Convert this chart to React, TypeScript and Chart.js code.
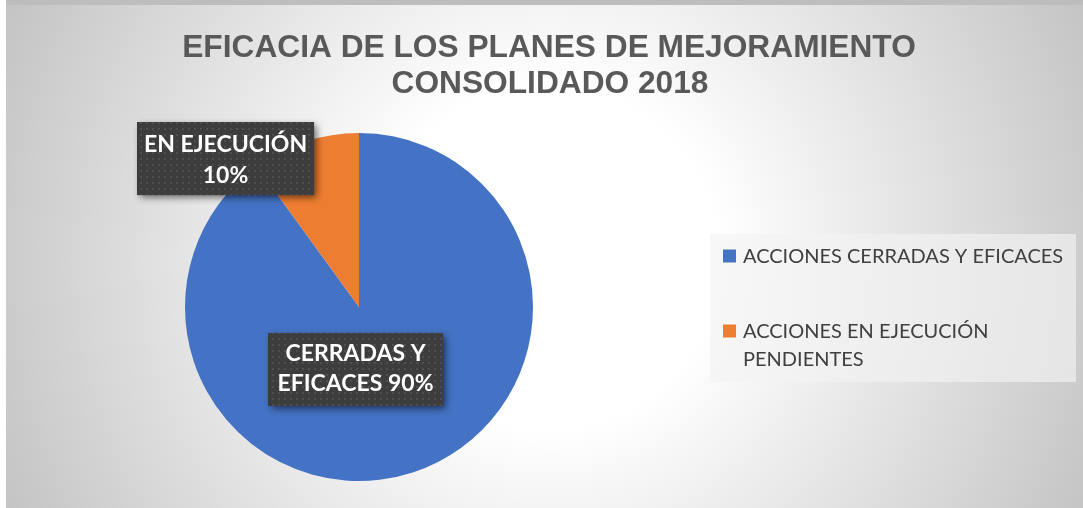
import React, { useEffect, useRef } from "react";
import { Chart, registerables } from "chart.js";

Chart.register(...registerables);

// ---------- data ----------
const titleLines = ["EFICACIA DE LOS PLANES DE MEJORAMIENTO", "CONSOLIDADO 2018"];
const categories = ["ACCIONES CERRADAS Y EFICACES", "ACCIONES EN EJECUCIÓN PENDIENTES"];
const values = [90, 10];
const sliceLabels = [
  ["CERRADAS Y", "EFICACES 90%"],
  ["EN EJECUCIÓN", "10%"],
];
const sliceColors = ["#4472C4", "#ED7D31"];

// ---------- layout (styles / positions) ----------
const W = 1083;
const H = 508;
const LABEL_LAYOUT = [
  { dx: -0.02, dy: 0.359, w: 175, h: 73, b1: -8, b2: 22 },
  { dx: -0.767, dy: -0.853, w: 177, h: 73, b1: -6.5, b2: 24.5 },
];
const LEGEND_BOX = { x: 710, y: 234, w: 366, h: 148 };

function makePattern(ctx: CanvasRenderingContext2D) {
  const c = document.createElement("canvas");
  c.width = 6;
  c.height = 6;
  const p = c.getContext("2d")!;
  p.fillStyle = "#3d3d3d";
  p.fillRect(0, 0, 6, 6);
  p.fillStyle = "#4f4f4f";
  p.fillRect(2, 2, 2, 2);
  return ctx.createPattern(c, "repeat");
}

function wrapText(ctx: CanvasRenderingContext2D, text: string, maxW: number) {
  const words = text.split(" ");
  const lines: string[] = [];
  let cur = "";
  for (const w of words) {
    const test = cur ? cur + " " + w : w;
    if (ctx.measureText(test).width > maxW && cur) {
      lines.push(cur);
      cur = w;
    } else cur = test;
  }
  if (cur) lines.push(cur);
  return lines;
}

const decorPlugin = {
  id: "decor",
  beforeDraw(chart: any) {
    const ctx: CanvasRenderingContext2D = chart.ctx;
    ctx.save();
    ctx.fillStyle = "#ffffff";
    ctx.fillRect(0, 0, W, H);
    const g = ctx.createRadialGradient(548, 258, 0, 548, 258, 610);
    g.addColorStop(0, "#ffffff");
    g.addColorStop(0.28, "#ffffff");
    g.addColorStop(1, "#c2c2c2");
    ctx.fillStyle = g;
    ctx.fillRect(6, 0, W - 6, H);
    ctx.fillStyle = "#bdbdbd";
    ctx.fillRect(6, 0, W - 6, 5);
    // title
    ctx.fillStyle = "#595959";
    ctx.font = "bold 31.7px 'Liberation Sans', Arial, sans-serif";
    ctx.textAlign = "center";
    ctx.textBaseline = "alphabetic";
    ctx.fillText(titleLines[0], 549, 57);
    ctx.fillText(titleLines[1], 550, 93);
    ctx.restore();
  },
  afterDraw(chart: any) {
    const ctx: CanvasRenderingContext2D = chart.ctx;
    const meta = chart.getDatasetMeta(0);
    const pattern = makePattern(ctx);
    ctx.save();
    // data labels
    meta.data.forEach((arc: any, i: number) => {
      const lay = LABEL_LAYOUT[i];
      const r = arc.outerRadius;
      const cx = arc.x + lay.dx * r;
      const cy = arc.y + lay.dy * r;
      ctx.save();
      ctx.shadowColor = "rgba(0,0,0,0.55)";
      ctx.shadowBlur = 7;
      ctx.shadowOffsetX = 3;
      ctx.shadowOffsetY = 3;
      ctx.fillStyle = "#3d3d3d";
      ctx.fillRect(cx - lay.w / 2, cy - lay.h / 2, lay.w, lay.h);
      ctx.restore();
      ctx.fillStyle = pattern || "#404040";
      ctx.fillRect(cx - lay.w / 2, cy - lay.h / 2, lay.w, lay.h);
      ctx.fillStyle = "#ffffff";
      ctx.font = "bold 23px Lato, 'Open Sans', sans-serif";
      ctx.textAlign = "center";
      ctx.textBaseline = "alphabetic";
      const lines = sliceLabels[i];
      ctx.fillText(lines[0], cx, cy + lay.b1);
      ctx.fillText(lines[1], cx, cy + lay.b2);
    });
    // legend
    const lb = LEGEND_BOX;
    ctx.fillStyle = "rgba(242,242,242,0.65)";
    ctx.fillRect(lb.x, lb.y, lb.w, lb.h);
    ctx.font = "20px Lato, 'Open Sans', sans-serif";
    ctx.textAlign = "left";
    ctx.textBaseline = "alphabetic";
    let baseline = 263;
    categories.forEach((cat, i) => {
      ctx.fillStyle = sliceColors[i];
      ctx.fillRect(723, baseline - 13.5, 13, 13);
      ctx.fillStyle = "#404040";
      const lines = wrapText(ctx, cat, 340);
      lines.forEach((ln, k) => {
        ctx.fillText(ln, 743, baseline + k * 28);
      });
      baseline += 75;
    });
    ctx.restore();
  },
};

export default function App() {
  const ref = useRef<HTMLCanvasElement>(null);
  useEffect(() => {
    if (!ref.current) return;
    const chart = new Chart(ref.current, {
      type: "pie",
      data: {
        labels: categories,
        datasets: [
          {
            data: values,
            backgroundColor: sliceColors,
            borderWidth: 0,
          },
        ],
      },
      options: {
        responsive: false,
        animation: false,
        devicePixelRatio: 1,
        layout: { padding: { left: 185, right: 550, top: 133, bottom: 27 } },
        plugins: {
          legend: { display: false },
          title: { display: false },
          tooltip: { enabled: false },
        },
      },
      plugins: [decorPlugin],
    });
    return () => chart.destroy();
  }, []);
  return (
    <div style={{ position: "fixed", left: 0, top: 0, width: W, height: H }}>
      <canvas ref={ref} width={W} height={H} style={{ display: "block" }} />
    </div>
  );
}
